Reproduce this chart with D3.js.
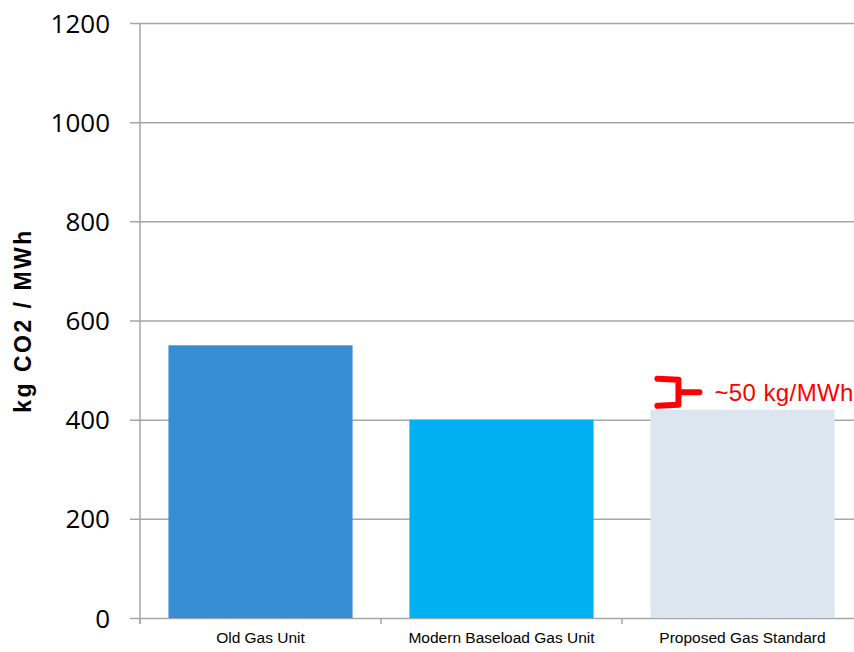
<!DOCTYPE html>
<html>
<head>
<meta charset="utf-8">
<script src="https://cdn.jsdelivr.net/npm/d3@7"></script>
<style>
  body { margin: 0; background: #fff; }
  svg { display: block; }
</style>
</head>
<body>
<svg id="chart" width="854" height="652"></svg>
<script>
// chart data
var categories = ["Old Gas Unit", "Modern Baseload Gas Unit", "Proposed Gas Standard"];
var values = [550, 400, 420];
var barColors = ["#378dd4", "#00b0f0", "#dce6f1"];
var yTicks = [0, 200, 400, 600, 800, 1000, 1200];
var yLabel = "kg CO2 / MWh";
var noteText = "~50 kg/MWh";

var svg = d3.select("#chart");
var plot = { left: 140, right: 863, top: 23, bottom: 618 };

var x = d3.scaleBand()
    .domain(categories)
    .range([plot.left, plot.right])
    .paddingInner(0.236)
    .paddingOuter(0.118);

var y = d3.scaleLinear()
    .domain([0, 1200])
    .range([plot.bottom, plot.top]);

// gridlines + y axis
var yAxis = d3.axisLeft(y)
    .tickValues(yTicks)
    .tickSize(-(plot.right - plot.left))
    .tickPadding(30)
    .tickFormat(d3.format("d"));

var gy = svg.append("g")
    .attr("transform", "translate(" + plot.left + ",0)")
    .call(yAxis);
gy.select(".domain").remove();
gy.selectAll(".tick line")
    .attr("x1", -10)
    .attr("stroke", "#a6a6a6")
    .attr("stroke-width", 1.5);
gy.selectAll(".tick text")
    .attr("font-family", "'Open Sans', sans-serif")
    .attr("font-size", 26)
    .attr("fill", "#000")
    .attr("dy", "0.35em");

// bars
svg.selectAll("rect.bar")
    .data(values)
    .enter()
    .append("rect")
    .attr("class", "bar")
    .attr("x", function (d, i) { return x(categories[i]); })
    .attr("width", x.bandwidth())
    .attr("y", function (d) { return y(d); })
    .attr("height", function (d) { return y(0) - y(d); })
    .attr("fill", function (d, i) { return barColors[i]; });

// vertical axis line
svg.append("line")
    .attr("x1", plot.left).attr("x2", plot.left)
    .attr("y1", plot.top).attr("y2", plot.bottom + 6)
    .attr("stroke", "#a6a6a6")
    .attr("stroke-width", 1.5);

// x axis
var xAxis = d3.axisBottom(x).tickSize(0).tickPadding(14);
var gx = svg.append("g")
    .attr("transform", "translate(0," + plot.bottom + ")")
    .call(xAxis);
gx.select(".domain").remove();
gx.selectAll(".tick text")
    .attr("font-family", "'Liberation Sans Narrow', 'Arial Narrow', sans-serif")
    .attr("font-size", 15.5)
    .attr("fill", "#000");

// category separators on x axis
var seps = categories.map(function (c) { return x(c) - x.step() * x.paddingInner() / 2; });
seps[0] = plot.left;
svg.selectAll("line.sep")
    .data(seps)
    .enter()
    .append("line")
    .attr("class", "sep")
    .attr("x1", function (d) { return d; })
    .attr("x2", function (d) { return d; })
    .attr("y1", plot.bottom)
    .attr("y2", plot.bottom + 6)
    .attr("stroke", "#a6a6a6")
    .attr("stroke-width", 1.5);

// y label
svg.append("text")
    .attr("transform", "translate(31," + ((plot.top + plot.bottom) / 2) + ") rotate(-90)")
    .attr("text-anchor", "middle")
    .attr("font-family", "'Liberation Sans', Arial, sans-serif")
    .attr("font-weight", "bold")
    .attr("font-size", 23)
    .attr("letter-spacing", 2.5)
    .text(yLabel);

// annotation bracket
var bx = x(categories[2]) + 7;
var yTop = y(values[2]) - 31, yBot = y(values[2]) - 4;
var yMid = (yTop + yBot) / 2;
svg.append("path")
    .attr("d", "M" + bx + "," + yTop + " L" + (bx + 21) + "," + (yTop + 1) +
        " L" + (bx + 21) + "," + (yBot - 1) + " L" + bx + "," + yBot +
        " M" + (bx + 21) + "," + yMid + " L" + (bx + 42) + "," + yMid)
    .attr("fill", "none")
    .attr("stroke", "#ff0000")
    .attr("stroke-width", 6)
    .attr("stroke-linejoin", "round")
    .attr("stroke-linecap", "round");

svg.append("text")
    .attr("x", bx + 57)
    .attr("y", yMid + 9)
    .attr("font-family", "'Liberation Sans', Arial, sans-serif")
    .attr("font-size", 24)
    .attr("letter-spacing", 0.4)
    .attr("fill", "#ff0000")
    .text(noteText);
</script>
</body>
</html>
